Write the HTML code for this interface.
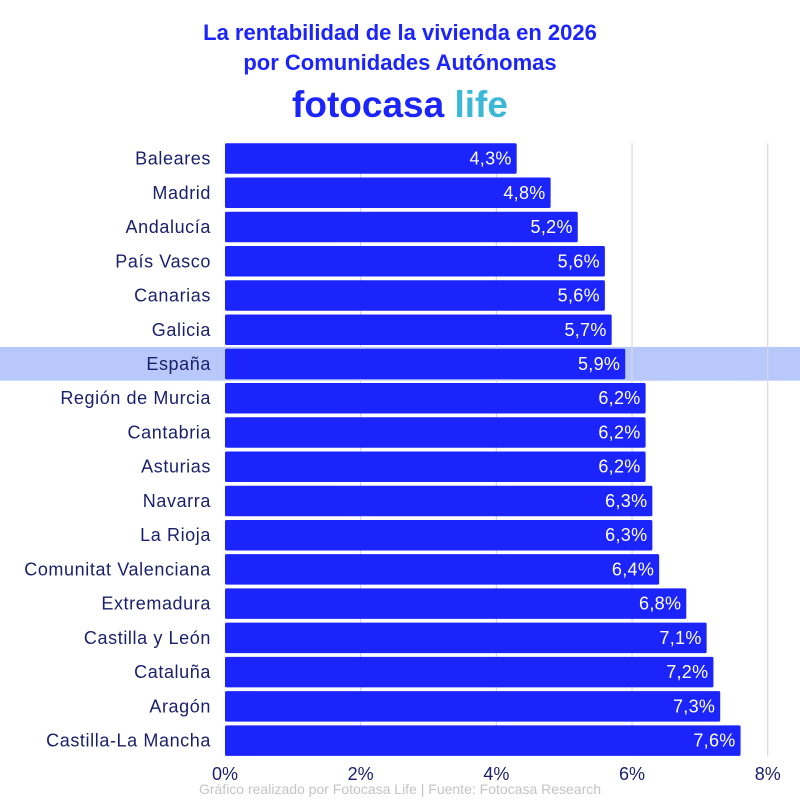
<!DOCTYPE html>
<html><head><meta charset="utf-8"><style>
body{margin:0;background:#fff;width:800px;height:800px;overflow:hidden;font-family:"Liberation Sans",sans-serif}
</style></head><body>
<svg width="800" height="800" xmlns="http://www.w3.org/2000/svg">
<text x="400" y="40" text-anchor="middle" font-size="22" font-weight="bold" fill="#1c24fc">La rentabilidad de la vivienda en 2026</text>
<text x="400" y="70" text-anchor="middle" font-size="22" font-weight="bold" fill="#1c24fc">por Comunidades Autónomas</text>
<text x="400" y="117" text-anchor="middle" font-size="37" font-weight="bold" fill="#1c24fc">fotocasa <tspan fill="#3bb8d6">life</tspan></text>
<g id="plot"></g>
<text x="400" y="794" text-anchor="middle" font-size="14" fill="#c4c4c4">Gráfico realizado por Fotocasa Life | Fuente: Fotocasa Research</text>
</svg>
<script>
const categories=["Baleares","Madrid","Andalucía","País Vasco","Canarias","Galicia","España","Región de Murcia","Cantabria","Asturias","Navarra","La Rioja","Comunitat Valenciana","Extremadura","Castilla y León","Cataluña","Aragón","Castilla-La Mancha"];
const values=[4.3,4.8,5.2,5.6,5.6,5.7,5.9,6.2,6.2,6.2,6.3,6.3,6.4,6.8,7.1,7.2,7.3,7.6];
const ticks=[0,2,4,6,8];
const highlight="España";
const NS="http://www.w3.org/2000/svg";
const g=document.getElementById('plot');
const x0=225,x1=767.7,xmax=8,top0=143.3,step=34.24,bh=30.5;
const xs=v=>x0+(x1-x0)*v/xmax;
const ys=i=>top0+i*step;
function mk(t,a){const e=document.createElementNS(NS,t);for(const k in a)e.setAttribute(k,a[k]);g.appendChild(e);return e;}
categories.forEach((c,i)=>{if(c===highlight){const r=mk('rect',{x:0,y:ys(i)-1.8,width:800,height:step-0.5,fill:'#b8c8fa'});

}});
ticks.forEach(t=>{if(t===0)return;const l=mk('line',{x1:xs(t),x2:xs(t),y1:ys(0),y2:ys(categories.length-1)+bh,stroke:'#d6d6ea','stroke-width':1.2});

});
categories.forEach((c,i)=>{
const r=mk('rect',{x:x0,y:ys(i),width:xs(values[i])-x0,height:bh,fill:'#1c24fc',rx:1.5});


const v=mk('text',{x:xs(values[i])-5,y:ys(i)+bh/2+6,'text-anchor':'end','font-size':18,'letter-spacing':0.3,fill:'#fff'});
v.textContent=values[i].toFixed(1).replace('.',',')+'%';


const l=mk('text',{x:211,y:ys(i)+bh/2+6,'text-anchor':'end','font-size':18,'letter-spacing':0.6,fill:'#1a1f6b'});
l.textContent=c;


});
ticks.forEach(t=>{const e=mk('text',{x:xs(t),y:780,'text-anchor':'middle','font-size':18,fill:'#1a1f6b'});
e.textContent=t+'%';

});
</script>
</body></html>
